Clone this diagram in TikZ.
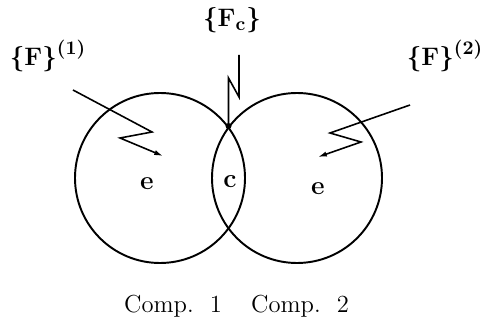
\documentclass[tikz,border=0pt]{standalone}
\usetikzlibrary{arrows.meta}
\begin{document}
\begin{tikzpicture}[x=0.02cm,y=-0.02cm,line width=1.1pt]
		\tikzstyle{every node}+=[inner sep=0pt]
		\tikzstyle{load}=[line width=0.9pt,-{Latex[length=5pt,width=3pt]}]
		\tikzstyle{lbl}=[font=\fontsize{15}{17}\selectfont\boldmath]
		\useasboundingbox (0,0) rectangle (486,320);
		% two components
		\draw [black] (160,178) circle (85);
		\draw [black] (297,178) circle (85);
		\coordinate (top) at (228.5,126);
		\fill [black] (top) circle (3);
		\draw (147,184) node (e1) {\fontsize{15}{17}\selectfont\textbf{e}};
		\draw (230,182) node (c) {\fontsize{15}{17}\selectfont\textbf{c}};
		\draw (318,189) node (e2) {\fontsize{15}{17}\selectfont\textbf{e}};
		% loads
		\draw (48,56) node [lbl] (f1) {$\big\{\mathrm{F}\big\}^{\scriptstyle(1)}$};
		\draw (232,20) node [lbl] (fc) {$\big\{\mathrm{F}_{\mathrm c}\big\}$};
		\draw (445,56) node [lbl] (f2) {$\big\{\mathrm{F}\big\}^{\scriptstyle(2)}$};
		\coordinate (a1) at (73,90);
		\coordinate (b1) at (163,156);
		\draw [load] (a1) -- (152,132) -- (120,138) -- (b1);
		\coordinate (a2) at (410,105);
		\coordinate (b2) at (318,157);
		\draw [load] (a2) -- (330,133) -- (361,142) -- (b2);
		\coordinate (ac) at (239,55);
		\draw [line width=0.9pt] (ac) -- (239,97) -- (228.5,78) -- (top);
		% captions
		\draw (173,306) node (k1) {\fontsize{14}{16}\selectfont Comp.\ \ 1};
		\draw (300,306) node (k2) {\fontsize{14}{16}\selectfont Comp.\ \ 2};
	\end{tikzpicture}
\end{document}
